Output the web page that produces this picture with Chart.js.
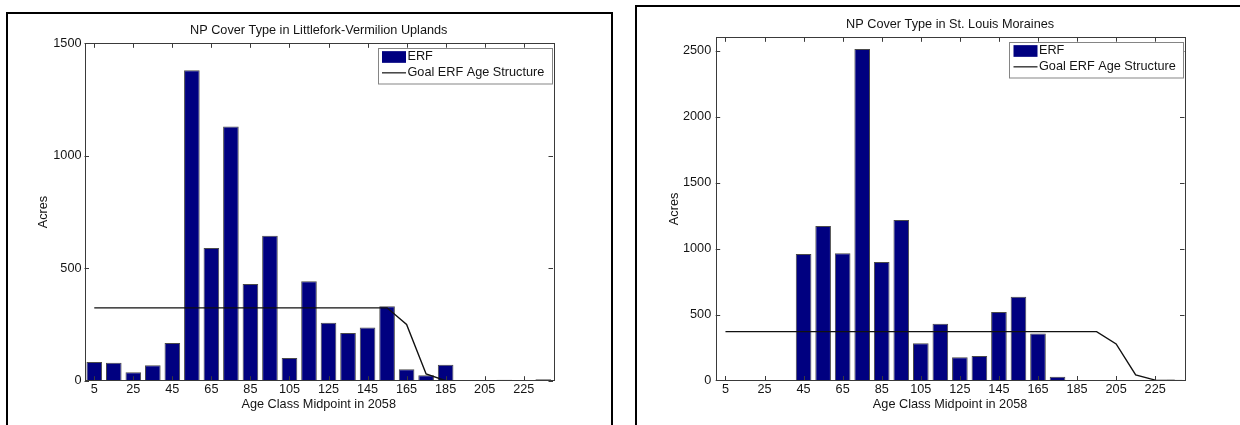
<!DOCTYPE html>
<html>
<head>
<meta charset="utf-8">
<title>NP Cover Type – ERF age structure</title>
<script src="https://cdn.jsdelivr.net/npm/chart.js@4.4.1/dist/chart.umd.min.js"></script>
<style>
  html, body { margin: 0; padding: 0; background: #fff; width: 1240px; height: 425px; overflow: hidden; }
  .frame { position: absolute; border: 2px solid #000; border-bottom: none; box-sizing: border-box; }
  #frameA { left: 6px; top: 12px; width: 607px; height: 500px; }
  #frameB { left: 635px; top: 5px; width: 700px; height: 500px; }
  canvas { position: absolute; top: 0; }
  #chartA { left: 0; }
  #chartB { left: 620px; }
</style>
</head>
<body>
<div class="frame" id="frameA"></div>
<div class="frame" id="frameB"></div>
<canvas id="chartA" width="620" height="425"></canvas>
<canvas id="chartB" width="620" height="425"></canvas>
<script>
// Age class midpoints (years) in 2058
const ageClasses = [5, 15, 25, 35, 45, 55, 65, 75, 85, 95, 105, 115,
                    125, 135, 145, 155, 165, 175, 185, 195, 205, 215, 225, 235];
const xTickLabels = [5, 25, 45, 65, 85, 105, 125, 145, 165, 185, 205, 225];

// Littlefork-Vermilion Uplands (acres)
const erfLittlefork  = [83, 80, 38, 69, 168, 1380, 590, 1130, 430, 644, 101, 442,
                        258, 212, 237, 331, 51, 24, 71, 0, 0, 4, 0, 7];
const goalLittlefork = [324, 324, 324, 324, 324, 324, 324, 324, 324, 324, 324, 324,
                        324, 324, 324, 324, 250, 30, 0, 0, 0, 0, 0, 0];
const yTicksLittlefork = [0, 500, 1000, 1500];

// St. Louis Moraines (acres)
const erfStLouis  = [0, 0, 0, 0, 958, 1170, 964, 2512, 897, 1216, 282, 430,
                     176, 186, 519, 635, 357, 29, 0, 0, 0, 0, 0, 5];
const goalStLouis = [370, 370, 370, 370, 370, 370, 370, 370, 370, 370, 370, 370,
                     370, 370, 370, 370, 370, 370, 370, 370, 277, 42, 3, 0];
const yTicksStLouis = [0, 500, 1000, 1500, 2000, 2500];

const FONT = { family: "'Liberation Sans', Arial, Helvetica, sans-serif", size: 12.7, lineHeight: 1.2 };
const TEXT = '#141414';
const AXIS = '#3a3a3a';
const NAVY = '#000080';

const toPoints = (xs, ys) => xs.map((x, i) => ({ x, y: ys[i] }));

// Axes box with inward tick marks on all four sides
const axesBox = {
  id: 'axesBox',
  afterDatasetsDraw(chart) {
    const { ctx, chartArea: a, scales: { x, y } } = chart;
    const t = 4.5;
    ctx.save();
    ctx.strokeStyle = AXIS;
    ctx.lineWidth = 1;
    ctx.beginPath();
    x.ticks.forEach(tk => {
      const px = Math.round(x.getPixelForValue(tk.value)) + 0.5;
      ctx.moveTo(px, a.bottom); ctx.lineTo(px, a.bottom - t);
      ctx.moveTo(px, a.top);    ctx.lineTo(px, a.top + t);
    });
    y.ticks.forEach(tk => {
      const py = Math.round(y.getPixelForValue(tk.value)) + 0.5;
      ctx.moveTo(a.left, py);  ctx.lineTo(a.left + t, py);
      ctx.moveTo(a.right, py); ctx.lineTo(a.right - t, py);
    });
    ctx.stroke();
    ctx.strokeRect(Math.round(a.left) + 0.5, Math.round(a.top) + 0.5,
                   Math.round(a.width), Math.round(a.height));
    ctx.restore();
  }
};

// Boxed legend in the upper right corner of the plot area
const boxedLegend = {
  id: 'boxedLegend',
  afterDraw(chart) {
    const { ctx, chartArea: a } = chart;
    const [bars, goal] = chart.data.datasets;
    const w = 174, h = 35.5;
    const left = a.right - 1.5 - w, top = a.top + 4.5;
    ctx.save();
    ctx.fillStyle = '#fff';
    ctx.fillRect(left, top, w, h);
    ctx.strokeStyle = '#858585';
    ctx.lineWidth = 1;
    ctx.strokeRect(Math.round(left) + 0.5, Math.round(top) + 0.5, w, h);
    // bar swatch
    ctx.fillStyle = bars.backgroundColor;
    ctx.fillRect(left + 4.5, top + 3.3, 24, 11.7);
    // line sample
    ctx.strokeStyle = goal.borderColor;
    ctx.lineWidth = 1.2;
    ctx.beginPath();
    ctx.moveTo(left + 4.5, top + 25);
    ctx.lineTo(left + 28.5, top + 25);
    ctx.stroke();
    ctx.fillStyle = TEXT;
    ctx.font = `${FONT.size}px ${FONT.family}`;
    ctx.textAlign = 'left';
    ctx.textBaseline = 'middle';
    ctx.fillText(bars.label, left + 30, top + 9);
    ctx.fillText(goal.label, left + 30, top + 25);
    ctx.restore();
  }
};

function makeChart(id, cfg) {
  return new Chart(document.getElementById(id), {
    type: 'bar',
    data: {
      datasets: [
        {
          type: 'bar',
          label: 'ERF',
          data: toPoints(ageClasses, cfg.erf),
          backgroundColor: NAVY,
          borderColor: '#4a4a4a',
          borderWidth: 1,
          barPercentage: 0.8,
          categoryPercentage: 1.0,
          order: 1
        },
        {
          type: 'line',
          label: 'Goal ERF Age Structure',
          data: toPoints(ageClasses, cfg.goal),
          borderColor: '#111',
          borderWidth: 1.4,
          pointRadius: 0,
          tension: 0,
          fill: false,
          order: 0
        }
      ]
    },
    options: {
      responsive: false,
      animation: false,
      devicePixelRatio: 1,
      layout: { padding: { left: 0, top: 0, right: cfg.padRight, bottom: 0 } },
      plugins: {
        legend: { display: false },
        tooltip: { enabled: false },
        title: {
          display: true,
          text: cfg.title,
          fullSize: false,
          color: TEXT,
          font: { ...FONT, weight: 'normal' },
          padding: { top: cfg.titleTop, bottom: 5.7 }
        }
      },
      scales: {
        x: {
          type: 'linear',
          min: 0,
          max: 240,
          offset: false,
          afterBuildTicks: s => { s.ticks = xTickLabels.map(v => ({ value: v })); },
          afterFit: s => { s.height = cfg.xAxisHeight; },
          grid: { display: false, drawTicks: false, offset: false },
          border: { display: false },
          ticks: { autoSkip: false, maxRotation: 0, padding: 1.2, color: TEXT, font: FONT,
                   callback: v => String(v) },
          title: { display: true, text: 'Age Class Midpoint in 2058', color: TEXT, font: FONT,
                   padding: { top: 0, bottom: cfg.xTitleBottom } }
        },
        y: {
          min: 0,
          max: cfg.yMax,
          afterBuildTicks: s => { s.ticks = cfg.yTicks.map(v => ({ value: v })); },
          afterFit: s => { s.width = cfg.yAxisWidth; },
          grid: { display: false, drawTicks: false },
          border: { display: false },
          ticks: { padding: cfg.yTickPad, color: TEXT, font: FONT, callback: v => String(v) },
          title: { display: true, text: 'Acres', color: TEXT, font: FONT,
                   padding: { top: cfg.yTitleTop, bottom: 0 } }
        }
      }
    },
    plugins: [axesBox, boxedLegend]
  });
}

makeChart('chartA', {
  title: 'NP Cover Type in Littlefork-Vermilion Uplands',
  erf: erfLittlefork, goal: goalLittlefork,
  yMax: 1500, yTicks: yTicksLittlefork,
  padRight: 67, titleTop: 22.4, xAxisHeight: 44.3, xTitleBottom: 12.4,
  yAxisWidth: 84.5, yTickPad: 3, yTitleTop: 35.7
});

makeChart('chartB', {
  title: 'NP Cover Type in St. Louis Moraines',
  erf: erfStLouis, goal: goalStLouis,
  yMax: 2600, yTicks: yTicksStLouis,
  padRight: 55.5, titleTop: 16.4, xAxisHeight: 44.5, xTitleBottom: 12.9,
  yAxisWidth: 95.7, yTickPad: 4.5, yTitleTop: 46.9
});
</script>
</body>
</html>
